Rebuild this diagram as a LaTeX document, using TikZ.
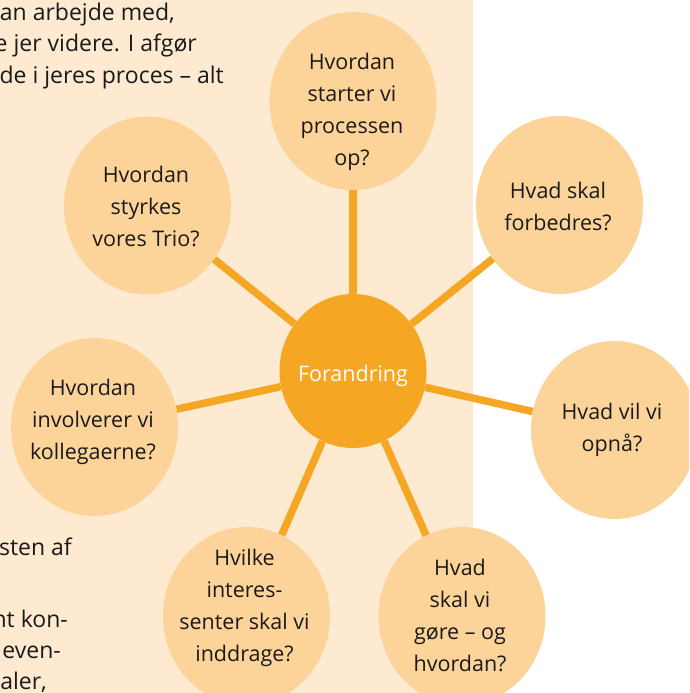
\documentclass[tikz,border=0pt]{standalone}
\usepackage{fontspec}
\setmainfont{Open Sans}
\usetikzlibrary{shapes.geometric}
\definecolor{bgbeige}{HTML}{FDEAD0}
\definecolor{bubble}{HTML}{FCD49A}
\definecolor{hub}{HTML}{F5A623}
\definecolor{ink}{HTML}{1A1A1A}
\tikzset{
  outer/.style={ellipse, fill=bubble, draw=none, minimum width=167pt, minimum height=178pt, inner sep=0pt},
  centre/.style={ellipse, fill=hub, draw=none, minimum width=147pt, minimum height=154pt, inner sep=0pt},
  qtext/.style={align=center, text=ink, inner sep=0pt, font=\fontsize{21.5pt}{32pt}\selectfont},
  bodytext/.style={anchor=base east, text=ink, inner sep=0pt, font=\fontsize{23pt}{31pt}\selectfont},
  spoke/.style={draw=hub, line width=7.5pt}
}
\begin{document}
\begin{tikzpicture}[x=1pt,y=-1pt]
\useasboundingbox (0,0) rectangle (689,693);
\clip (0,0) rectangle (689,693);
\fill[bgbeige] (0,0) rectangle (473,693);
% body text fragments (cut at left edge)
\node[bodytext] (l1) at (175,21) {an arbejde med,};
\node[bodytext] (l2) at (197,52) {e jer videre. I afgør};
\node[bodytext] (l3) at (224,83.5) {de i jeres proces – alt};
\node[bodytext] (l4) at (72,555.5) {sten af};
\node[bodytext] (l5) at (68,627.5) {nt kon-};
\node[bodytext] (l6) at (61,658.5) {even-};
\node[bodytext] (l7) at (47,689.5) {aler,};
% bubbles
\node[centre] (C) at (353,371) {};
\node[outer] (T1) at (353,101) {};
\node[outer] (T2) at (559.5,205) {};
\node[outer] (T3) at (614.5,430) {};
\node[outer] (T4) at (462,616) {};
\node[outer] (T5) at (246.5,616) {};
\node[outer] (T6) at (94.5,427) {};
\node[outer] (T7) at (147.5,205.5) {};
% spokes
\foreach \t in {T1,T2,T3,T4,T5,T6,T7} \draw[spoke] (C) -- (\t);
% texts
\node[qtext, text=white] (ct) at (353,376) {Forandring};
\node[qtext] (q1) at (352,111.5) {Hvordan\\starter vi\\processen\\op?};
\node[qtext] (q2) at (558,206) {Hvad skal\\forbedres?};
\node[qtext] (q3) at (612,430) {Hvad vil vi\\opnå?};
\node[qtext] (q4) at (460,615) {Hvad\\skal vi\\gøre – og\\hvordan?};
\node[qtext] (q5) at (244.5,608) {Hvilke\\interes-\\senter skal vi\\inddrage?};
\node[qtext] (q6) at (93,422) {Hvordan\\involverer vi\\kollegaerne?};
\node[qtext] (q7) at (146,206) {Hvordan\\styrkes\\vores Trio?};
\end{tikzpicture}
\end{document}
